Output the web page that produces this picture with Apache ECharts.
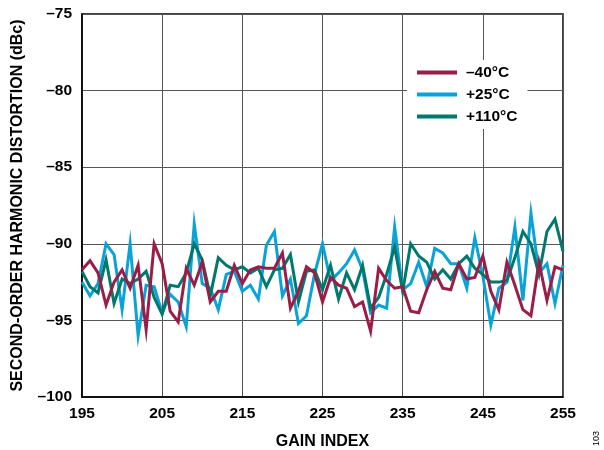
<!DOCTYPE html>
<html>
<head>
<meta charset="utf-8">
<script src="https://cdn.jsdelivr.net/npm/echarts@6/dist/echarts.min.js"></script>
<style>
  html, body { margin: 0; padding: 0; background: #fff; }
  #chart { width: 604px; height: 450px; }
</style>
</head>
<body>
<div id="chart"></div>
<script>
// Gain index 195..255
const gainIndex = [];
for (let i = 195; i <= 255; i++) gainIndex.push(i);

const minus40C = [
  -91.7, -91.1, -91.9, -94.0, -92.5, -91.7, -92.9, -91.4, -95.6, -90.0,
  -91.3, -94.4, -95.1, -91.6, -92.7, -91.2, -93.8, -93.1, -93.1, -91.4,
  -92.6, -91.7, -91.5, -91.6, -91.6, -90.6, -94.2, -93.1, -91.5, -91.9,
  -93.8, -92.2, -92.7, -92.9, -94.1, -93.8, -95.7, -91.6, -92.4, -92.9,
  -92.8, -94.4, -94.5, -93.0, -91.8, -92.9, -93.0, -91.3, -92.3, -92.2,
  -90.8, -93.1, -94.3, -91.2, -92.7, -94.3, -94.7, -91.2, -93.7, -91.5,
  -91.7
];
const plus25C = [
  -92.5, -93.4, -92.6, -90.0, -90.7, -94.3, -90.0, -96.0, -92.7, -92.8,
  -94.5, -93.3, -93.8, -95.4, -88.7, -92.6, -92.9, -94.3, -92.0, -91.8,
  -93.1, -92.7, -93.6, -90.1, -89.2, -93.4, -92.3, -95.2, -94.7, -92.0,
  -90.0, -92.4, -91.9, -91.3, -90.4, -91.7, -94.5, -94.0, -94.2, -88.9,
  -93.0, -92.6, -91.2, -92.8, -90.3, -90.6, -91.3, -91.3, -92.9, -89.6,
  -92.1, -95.3, -92.9, -92.5, -88.9, -93.7, -88.0, -91.9, -91.3, -93.9,
  -91.4
];
const plus110C = [
  -91.8, -92.8, -93.2, -91.05, -93.9, -92.3, -92.6, -92.3, -91.8, -93.5,
  -94.6, -92.7, -92.8, -91.9, -90.0, -91.05, -93.4, -90.9, -91.4, -91.7,
  -91.5, -91.9, -91.6, -92.8, -91.7, -91.6, -90.7, -93.8, -91.8, -91.7,
  -93.0, -91.4, -93.6, -91.9, -93.0, -91.4, -94.2, -93.5, -92.0, -90.2,
  -93.1, -90.0, -90.8, -91.2, -92.3, -91.7, -92.3, -91.3, -90.8, -91.6,
  -92.0, -92.5, -92.5, -92.4, -90.9, -89.2, -90.0, -92.0, -89.2, -88.4,
  -90.5
];

const seriesNames = ['\u201340\u00b0C', '+25\u00b0C', '+110\u00b0C'];
const seriesColors = ['#9c1c48', '#0aa3d8', '#00786b'];
const xTitle = 'GAIN INDEX';
const yTitle = 'SECOND-ORDER HARMONIC DISTORTION (dBc)';

function pairs(arr) { return arr.map((v, i) => [gainIndex[i], v]); }

const font = 'Liberation Sans, Arial, sans-serif';
const chart = echarts.init(document.getElementById('chart'), null, { renderer: 'canvas' });

const seriesData = [minus40C, plus25C, plus110C];
const zOrder = [4, 2, 3];

chart.setOption({
  animation: false,
  backgroundColor: '#fff',
  grid: { left: 82, right: 41, top: 14, bottom: 53, outerBoundsMode: 'none', containLabel: false,
          show: true, borderColor: '#000', borderWidth: 1.5, backgroundColor: 'transparent' },
  legend: {
    data: seriesNames,
    orient: 'vertical',
    left: 407,
    top: 60,
    backgroundColor: '#fff',
    padding: [4, 10, 4, 10],
    itemWidth: 40,
    itemHeight: 4,
    itemGap: 5,
    icon: 'rect',
    textStyle: { fontFamily: font, fontWeight: 'bold', fontSize: 15.5, color: '#000', lineHeight: 17, padding: [0, 0, 0, 4] }
  },
  xAxis: {
    type: 'value', min: 195, max: 255, interval: 10,
    name: xTitle, nameLocation: 'middle', nameGap: 37,
    nameTextStyle: { fontFamily: font, fontWeight: 'bold', fontSize: 16, color: '#000' },
    axisLine: { show: true, lineStyle: { color: '#000', width: 1.5 } },
    axisTick: { show: false },
    axisLabel: { fontFamily: font, fontWeight: 'bold', fontSize: 15.5, color: '#000', margin: 9 },
    splitLine: { show: true, lineStyle: { color: '#555', width: 1 } }
  },
  yAxis: {
    type: 'value', min: -100, max: -75, interval: 5,
    name: yTitle, nameLocation: 'middle', nameGap: 56, nameRotate: 90,
    nameTextStyle: { fontFamily: font, fontWeight: 'bold', fontSize: 16, color: '#000' },
    axisLine: { show: true, lineStyle: { color: '#000', width: 1.5 } },
    axisTick: { show: false },
    axisLabel: { fontFamily: font, fontWeight: 'bold', fontSize: 15.5, color: '#000', margin: 10,
      formatter: v => String(v).replace('-', '\u2013') },
    splitLine: { show: true, lineStyle: { color: '#555', width: 1 } }
  },
  series: seriesData.map((d, k) => ({
    name: seriesNames[k],
    type: 'line',
    data: pairs(d),
    symbol: 'none',
    z: zOrder[k],
    color: seriesColors[k],
    lineStyle: { color: seriesColors[k], width: 3, join: 'miter' }
  })),
  graphic: [{
    type: 'text', left: 592, top: 431, rotation: Math.PI / 2,
    style: { text: '103', fontFamily: font, fontSize: 9, fill: '#000' }
  }]
});
</script>
</body>
</html>
